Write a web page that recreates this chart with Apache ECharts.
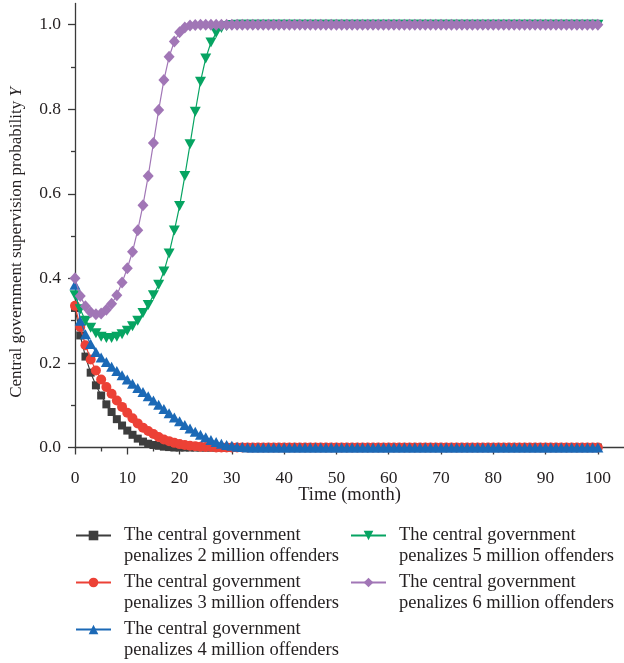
<!DOCTYPE html>
<html>
<head>
<meta charset="utf-8">
<script src="https://cdn.jsdelivr.net/npm/echarts@6/dist/echarts.min.js"></script>
<style>
html,body{margin:0;padding:0;background:#fff;}
#chart{width:624px;height:663px;}
</style>
</head>
<body>
<div id="chart"></div>
<script>
const months = [
  0,1,2,3,4,5,6,7,8,9,
  10,11,12,13,14,15,16,17,18,19,
  20,21,22,23,24,25,26,27,28,29,
  30,31,32,33,34,35,36,37,38,39,
  40,41,42,43,44,45,46,47,48,49,
  50,51,52,53,54,55,56,57,58,59,
  60,61,62,63,64,65,66,67,68,69,
  70,71,72,73,74,75,76,77,78,79,
  80,81,82,83,84,85,86,87,88,89,
  90,91,92,93,94,95,96,97,98,99,
  100
];

const seriesNames = [
  'The central government penalizes 2 million offenders',
  'The central government penalizes 3 million offenders',
  'The central government penalizes 4 million offenders',
  'The central government penalizes 5 million offenders',
  'The central government penalizes 6 million offenders'
];

const penalty2 = [
  0.330,0.265,0.215,0.177,0.147,0.123,0.102,0.084,0.067,0.052,
  0.040,0.030,0.021,0.014,0.009,0.006,0.004,0.002,0.001,0,
  0,0,0,0,0,0,0,0,0,0,
  0,0,0,0,0,0,0,0,0,0,
  0,0,0,0,0,0,0,0,0,0,
  0,0,0,0,0,0,0,0,0,0,
  0,0,0,0,0,0,0,0,0,0,
  0,0,0,0,0,0,0,0,0,0,
  0,0,0,0,0,0,0,0,0,0,
  0,0,0,0,0,0,0,0,0,0,
  0
];
const penalty3 = [
  0.335,0.285,0.242,0.208,0.182,0.161,0.143,0.127,0.111,0.096,
  0.082,0.069,0.057,0.047,0.039,0.032,0.025,0.019,0.015,0.011,
  0.008,0.006,0.004,0.003,0.002,0.001,0.001,0,0,0,
  0,0,0,0,0,0,0,0,0,0,
  0,0,0,0,0,0,0,0,0,0,
  0,0,0,0,0,0,0,0,0,0,
  0,0,0,0,0,0,0,0,0,0,
  0,0,0,0,0,0,0,0,0,0,
  0,0,0,0,0,0,0,0,0,0,
  0,0,0,0,0,0,0,0,0,0,
  0
];
const penalty4 = [
  0.385,0.300,0.268,0.245,0.226,0.213,0.202,0.191,0.181,0.171,
  0.161,0.151,0.141,0.131,0.121,0.111,0.101,0.091,0.081,0.071,
  0.062,0.053,0.045,0.037,0.030,0.024,0.018,0.013,0.009,0.006,
  0.004,0.002,0.001,0,0,0,0,0,0,0,
  0,0,0,0,0,0,0,0,0,0,
  0,0,0,0,0,0,0,0,0,0,
  0,0,0,0,0,0,0,0,0,0,
  0,0,0,0,0,0,0,0,0,0,
  0,0,0,0,0,0,0,0,0,0,
  0,0,0,0,0,0,0,0,0,0,
  0
];
const penalty5 = [
  0.360,0.327,0.300,0.283,0.270,0.262,0.259,0.259,0.262,0.268,
  0.276,0.287,0.300,0.318,0.337,0.360,0.385,0.416,0.459,0.513,
  0.571,0.642,0.717,0.794,0.865,0.920,0.958,0.980,0.992,0.997,
  0.999,1,1,1,1,1,1,1,1,1,
  1,1,1,1,1,1,1,1,1,1,
  1,1,1,1,1,1,1,1,1,1,
  1,1,1,1,1,1,1,1,1,1,
  1,1,1,1,1,1,1,1,1,1,
  1,1,1,1,1,1,1,1,1,1,
  1,1,1,1,1,1,1,1,1,1,
  1
];
const penalty6 = [
  0.400,0.358,0.334,0.320,0.315,0.317,0.326,0.340,0.360,0.390,
  0.424,0.463,0.514,0.573,0.642,0.720,0.798,0.869,0.924,0.960,
  0.982,0.993,0.998,0.999,1,1,1,1,1,1,
  1,1,1,1,1,1,1,1,1,1,
  1,1,1,1,1,1,1,1,1,1,
  1,1,1,1,1,1,1,1,1,1,
  1,1,1,1,1,1,1,1,1,1,
  1,1,1,1,1,1,1,1,1,1,
  1,1,1,1,1,1,1,1,1,1,
  1,1,1,1,1,1,1,1,1,1,
  1
];

const xTickValues = [0,10,20,30,40,50,60,70,80,90,100];
const xMinorTickValues = [5,15,25,35,45,55,65,75,85,95];
const yTickValues = [0,0.2,0.4,0.6,0.8,1.0];
const yMinorTickValues = [0.1,0.3,0.5,0.7,0.9];

const colors = ['#3d3d3d','#ec4136','#1b69b6','#06a462','#a176b6'];
const symbols = ['rect','circle','triangle','triangle','diamond'];
const symbolSizes = [8,10,[11,10],[11,10],[11,12]];
const symbolRotates = [0,0,0,180,0];
const allValues = [penalty2, penalty3, penalty4, penalty5, penalty6];

const FONT = '"Liberation Serif", "DejaVu Serif", serif';
const TXT = '#231f20';
const AX = '#3a3a3a';

const chart = echarts.init(document.getElementById('chart'), null, {renderer:'canvas'});

const series = allValues.map((vals, k) => ({
  name: seriesNames[k],
  type: 'line',
  xAxisIndex: 0,
  yAxisIndex: 0,
  data: months.map((m, i) => [m, vals[i]]),
  symbol: symbols[k],
  symbolSize: symbolSizes[k],
  symbolRotate: symbolRotates[k],
  showAllSymbol: true,
  lineStyle: {color: colors[k], width: 1.2},
  itemStyle: {color: colors[k]},
  emphasis: {disabled: true},
  z: 2 + k
}));

// leading blank line keeps the legend icon level with the first text line
const legendCommon = {
  orient: 'vertical',
  top: 504,
  padding: 0,
  itemWidth: 35,
  itemHeight: 12,
  itemGap: -16,
  formatter: n => '\n' + n.replace(' penalizes', '\npenalizes'),
  textStyle: {
    fontFamily: FONT,
    fontSize: 18.5,
    lineHeight: 21,
    color: TXT,
    padding: [0, 0, 0, 8]
  }
};

const option = {
  animation: false,
  backgroundColor: '#ffffff',
  textStyle: {fontFamily: FONT},
  grid: {left: 75, top: 3.5, width: 551, height: 444, containLabel: false},
  legend: [
    Object.assign({}, legendCommon, {left: 75, data: seriesNames.slice(0, 3)}),
    Object.assign({}, legendCommon, {left: 350, data: seriesNames.slice(3)})
  ],
  xAxis: [
    {
      type: 'value', min: 0, max: 105, position: 'bottom',
      name: 'Time (month)', nameLocation: 'middle', nameGap: 38,
      nameMoveOverlap: false,
      nameTextStyle: {fontFamily: FONT, fontSize: 18.5, color: TXT},
      axisLine: {onZero: false, lineStyle: {color: AX, width: 1.3}},
      axisTick: {customValues: xTickValues, length: 7, lineStyle: {color: AX, width: 1.3}},
      axisLabel: {customValues: xTickValues, margin: 22, fontFamily: FONT, fontSize: 17.5, color: TXT,
        formatter: v => String(v)},
      splitLine: {show: false}
    },
    {
      type: 'value', min: 0, max: 105, position: 'bottom', gridIndex: 0,
      axisLine: {show: false, onZero: false},
      axisTick: {customValues: xMinorTickValues, length: 4, lineStyle: {color: AX, width: 1.3}},
      axisLabel: {show: false, customValues: xMinorTickValues},
      splitLine: {show: false}
    }
  ],
  yAxis: [
    {
      type: 'value', min: 0, max: 1.05, position: 'left',
      name: '{n|Central government supervision probability }{i|Y}',
      nameLocation: 'middle', nameGap: 50,
      nameMoveOverlap: false,
      nameTextStyle: {
        fontFamily: FONT, fontSize: 17, color: TXT, padding: [0, 34, 0, 0],
        rich: {
          n: {fontFamily: FONT, fontSize: 17, color: TXT},
          i: {fontFamily: FONT, fontSize: 17, color: TXT, fontStyle: 'italic'}
        }
      },
      axisLine: {onZero: false, lineStyle: {color: AX, width: 1.3}},
      axisTick: {customValues: yTickValues, length: 7, lineStyle: {color: AX, width: 1.3}},
      axisLabel: {customValues: yTickValues, margin: 14, fontFamily: FONT, fontSize: 17.5, color: TXT,
        formatter: v => v.toFixed(1)},
      splitLine: {show: false}
    },
    {
      type: 'value', min: 0, max: 1.05, position: 'left', gridIndex: 0,
      axisLine: {show: false, onZero: false},
      axisTick: {customValues: yMinorTickValues, length: 4, lineStyle: {color: AX, width: 1.3}},
      axisLabel: {show: false, customValues: yMinorTickValues},
      splitLine: {show: false}
    }
  ],
  series: series
};

chart.setOption(option);
</script>
</body>
</html>
